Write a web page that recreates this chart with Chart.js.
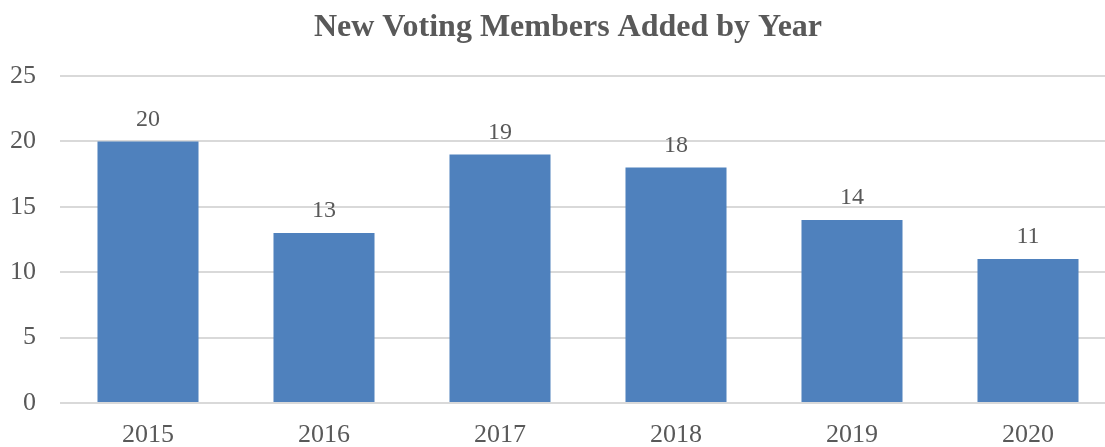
<!DOCTYPE html>
<html>
<head>
<meta charset="utf-8">
<script src="https://cdn.jsdelivr.net/npm/chart.js@4/dist/chart.umd.min.js"></script>
<style>
  html, body { margin: 0; padding: 0; background: #fff; overflow: hidden; }
  #wrap { width: 1116px; height: 447px; }
</style>
</head>
<body>
<div id="wrap"><canvas id="membersChart"></canvas></div>
<script>
// New voting members per year
const years = ["2015", "2016", "2017", "2018", "2019", "2020"];
const newMembers = [20, 13, 19, 18, 14, 11];
const yTicks = [0, 5, 10, 15, 20, 25];
const chartTitle = "New Voting Members Added by Year";

const textColor = "#595959";
const serif = "'Liberation Serif', 'Times New Roman', serif";

// title drawn by hand so it can sit where the original does
const titlePlugin = {
  id: "titlePlugin",
  afterDraw(chart) {
    const ctx = chart.ctx;
    ctx.save();
    ctx.font = "bold 32px " + serif;
    ctx.fillStyle = textColor;
    ctx.textAlign = "center";
    ctx.textBaseline = "alphabetic";
    ctx.fillText(chartTitle, 568, 36);
    ctx.restore();
  },
};

// draws the value above each bar
const valueLabels = {
  id: "valueLabels",
  afterDatasetsDraw(chart) {
    const ctx = chart.ctx;
    const meta = chart.getDatasetMeta(0);
    ctx.save();
    ctx.font = "24px " + serif;
    ctx.fillStyle = textColor;
    ctx.textAlign = "center";
    ctx.textBaseline = "bottom";
    meta.data.forEach((bar, i) => {
      ctx.fillText(newMembers[i], bar.x, bar.y - 10);
    });
    ctx.restore();
  },
};

const ctx1 = document.getElementById("membersChart").getContext("2d");
new Chart(ctx1, {
  type: "bar",
  data: {
    labels: years,
    datasets: [
      {
        label: "New Voting Members",
        data: newMembers,
        backgroundColor: "#4f81bd",
        categoryPercentage: 1,
        barPercentage: 0.574,
      },
    ],
  },
  options: {
    responsive: true,
    maintainAspectRatio: false,
    animation: false,
    layout: { padding: { left: 0, right: 0, top: 76, bottom: 0 } },
    plugins: {
      legend: { display: false },
      tooltip: { enabled: false },
      title: { display: false },
    },
    scales: {
      x: {
        grid: { display: false },
        border: { display: false },
        ticks: {
          color: textColor,
          font: { family: serif, size: 26 },
          padding: 9,
        },
        afterFit(scale) { scale.height = 44; },
      },
      y: {
        min: 0,
        max: 25,
        afterBuildTicks(scale) {
          scale.ticks = yTicks.map((v) => ({ value: v }));
        },
        grid: { color: "#d9d9d9", lineWidth: 2, drawTicks: false },
        border: { display: false },
        ticks: {
          color: textColor,
          font: { family: serif, size: 26 },
          padding: 24,
        },
        afterFit(scale) { scale.width = 60; },
      },
    },
  },
  plugins: [valueLabels, titlePlugin],
});
</script>
</body>
</html>
